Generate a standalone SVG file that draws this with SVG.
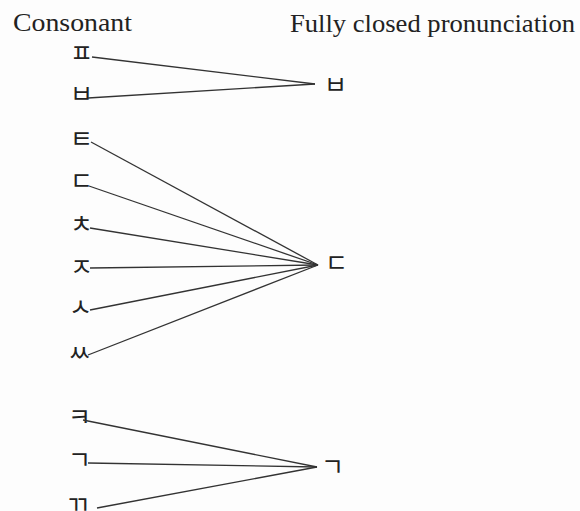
<svg xmlns="http://www.w3.org/2000/svg" width="580" height="511" viewBox="0 0 580 511">
<style>
.hd{font-family:"Liberation Serif","Times New Roman",serif;font-size:26px;fill:#222}
.j{font-family:"Noto Sans CJK KR","Noto Sans",sans-serif;font-size:25px;fill:#222}
.c line{stroke:#333;stroke-width:1.3;fill:none}
</style>
<rect width="580" height="511" fill="#fdfdfd"/>
<g id="headers">
<text class="hd" x="13" y="31" textLength="119" lengthAdjust="spacingAndGlyphs">Consonant</text>
<text class="hd" x="290" y="32" textLength="285" lengthAdjust="spacingAndGlyphs">Fully closed pronunciation</text>
</g>
<g id="n-pieup-src"><text class="j" x="70" y="62">ㅍ</text></g>
<g id="n-bieup-src"><text class="j" x="70" y="103">ㅂ</text></g>
<g id="n-tieut-src"><text class="j" x="70" y="148">ㅌ</text></g>
<g id="n-digeut-src"><text class="j" x="70" y="190">ㄷ</text></g>
<g id="n-chieut-src"><text class="j" x="70" y="233">ㅊ</text></g>
<g id="n-jieut-src"><text class="j" x="70" y="276">ㅈ</text></g>
<g id="n-siot-src"><text class="j" x="69" y="316">ㅅ</text></g>
<g id="n-ssangsiot-src"><text class="j" x="68" y="362">ㅆ</text></g>
<g id="n-kieuk-src"><text class="j" x="68" y="426">ㅋ</text></g>
<g id="n-giyeok-src"><text class="j" x="68" y="469">ㄱ</text></g>
<g id="n-ssanggiyeok-src"><text class="j" x="66" y="514">ㄲ</text></g>
<g id="n-bieup-dst"><text class="j" x="324" y="94">ㅂ</text></g>
<g id="n-digeut-dst"><text class="j" x="325" y="272">ㄷ</text></g>
<g id="n-giyeok-dst"><text class="j" x="321" y="476">ㄱ</text></g>
<g id="connectors" class="c">
<line x1="92" y1="57" x2="315" y2="84"/>
<line x1="88" y1="98" x2="315" y2="84"/>
<line x1="91" y1="142" x2="318" y2="265"/>
<line x1="89" y1="186" x2="318" y2="265"/>
<line x1="90" y1="228" x2="318" y2="265"/>
<line x1="90" y1="268" x2="318" y2="265"/>
<line x1="90" y1="310" x2="318" y2="265"/>
<line x1="88" y1="355" x2="318" y2="265"/>
<line x1="83" y1="420" x2="317" y2="467"/>
<line x1="88" y1="463" x2="317" y2="467"/>
<line x1="97" y1="508" x2="317" y2="467"/>
</g>
</svg>
